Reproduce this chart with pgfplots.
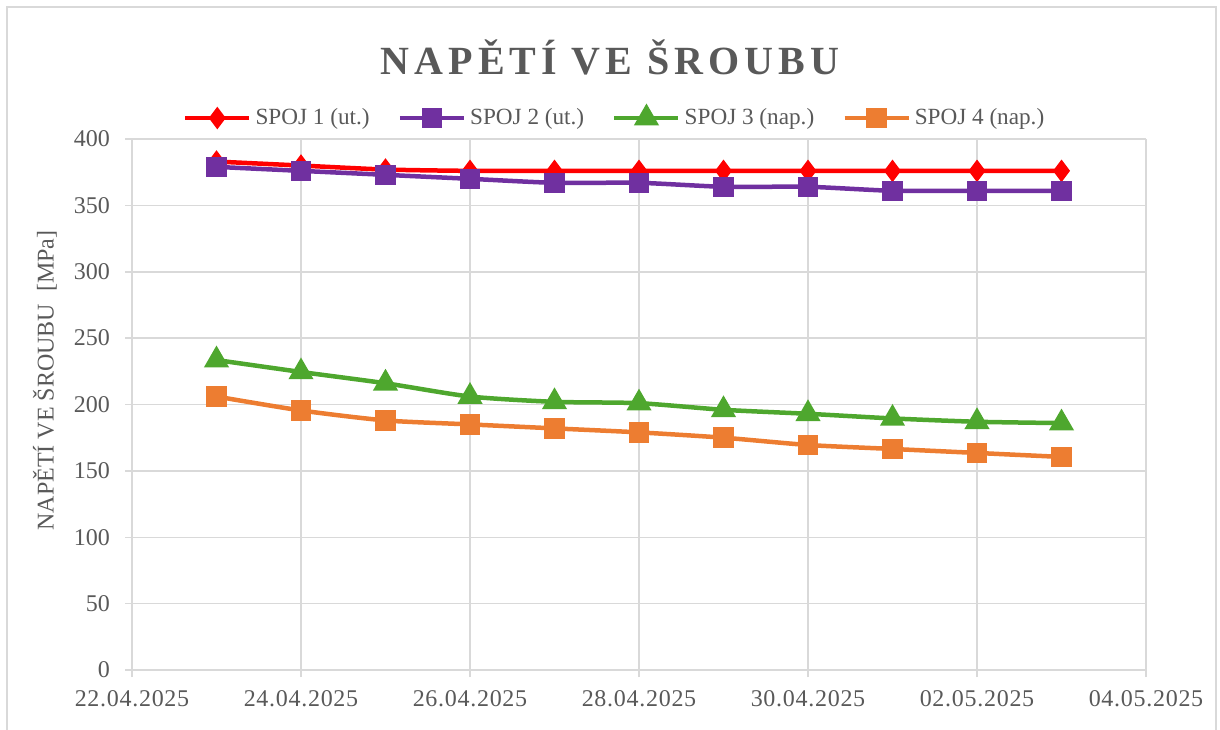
\documentclass[border=0pt]{standalone}
\usepackage{fontspec}
\setmainfont{Liberation Serif}
\usepackage{pgfplots}
\pgfplotsset{compat=1.18}
\definecolor{spoj1}{RGB}{255,0,0}
\definecolor{spoj2}{RGB}{112,48,160}
\definecolor{spoj3}{RGB}{78,167,46}
\definecolor{spoj4}{RGB}{237,125,49}
\definecolor{txtgray}{RGB}{89,89,89}
\definecolor{gridgray}{RGB}{217,217,217}

% x = days after 22.04.2025
\pgfplotstableread{
x s1 s2 s3 s4
1 383 379 233.5 206
2 380 376 224.5 195.5
3 377 373 216 188
4 376 370 206 185
5 376 367 202 182
6 376 367 201 179
7 376 364 196 175
8 376 364 193 169.5
9 376 361 189.5 166.5
10 376 361 187 163.5
11 376 361 186 160.5
}\data

\begin{document}
\begin{tikzpicture}
\useasboundingbox (-66pt,-29.5pt) rectangle (544pt,335pt);
\draw[gridgray, line width=1pt] (-62.5pt,-40pt) rectangle (542pt,331.5pt);
\node[anchor=base, text=txtgray, font=\fontsize{20}{24}\selectfont\bfseries\addfontfeatures{LetterSpace=12.5}]
  at (239pt,297.5pt) {NAPĚTÍ VE ŠROUBU};
\begin{axis}[
 at={(0,0)}, anchor=south west,
 scale only axis,
 width=507pt, height=265.5pt,
 xmin=0, xmax=12, ymin=0, ymax=400,
 xtick={0,2,...,12},
 xticklabels={22.04.2025,24.04.2025,26.04.2025,28.04.2025,30.04.2025,02.05.2025,04.05.2025},
 ytick={0,50,...,400},
 grid=major,
 grid style={gridgray, line width=0.75pt},
 axis x line*=bottom, axis y line*=left,
 axis line style={gridgray, line width=0.75pt},
 tick style={gridgray, line width=0.75pt},
 tick align=outside, major tick length=3.5pt,
 /pgf/number format/assume math mode=true,
 yticklabel style={font=\fontsize{12}{14}\selectfont, text=txtgray, xshift=-4pt},
 xticklabel style={font=\fontsize{12}{14}\selectfont\addfontfeatures{LetterSpace=3}, text=txtgray, yshift=-3pt},
 ylabel={NAPĚTÍ VE ŠROUBU\ \ [MPa]},
 ylabel style={at={(axis description cs:-0.0858,0.545)}, anchor=center, font=\fontsize{12}{14}\selectfont, text=txtgray},
 legend columns=4,
 legend style={at={(axis description cs:0.477,1.0395)}, anchor=center, draw=none, fill=none,
   font=\fontsize{11.6}{14}\selectfont, text=txtgray,
   /tikz/every even column/.append style={column sep=12pt}},
 legend image code/.code={\draw[mark repeat=2, mark phase=2] plot coordinates {(0pt,0pt)(16pt,0pt)(32pt,0pt)};},
 every axis plot/.append style={line width=2.25pt, smooth, tension=0.4},
]
\addplot[spoj1, mark=diamond*, mark size=3.8pt, mark options={solid, fill=spoj1}] table[x=x, y=s1] {\data};
\addlegendentry{SPOJ 1 (ut.)}
\addplot[spoj2, mark=square*, mark size=4pt, mark options={solid, fill=spoj2}] table[x=x, y=s2] {\data};
\addlegendentry{SPOJ 2 (ut.)}
\addplot[spoj3, mark=triangle*, mark size=5pt, mark options={solid, fill=spoj3}] table[x=x, y=s3] {\data};
\addlegendentry{SPOJ 3 (nap.)}
\addplot[spoj4, mark=square*, mark size=4pt, mark options={solid, fill=spoj4}] table[x=x, y=s4] {\data};
\addlegendentry{SPOJ 4 (nap.)}
\end{axis}
\end{tikzpicture}
\end{document}
